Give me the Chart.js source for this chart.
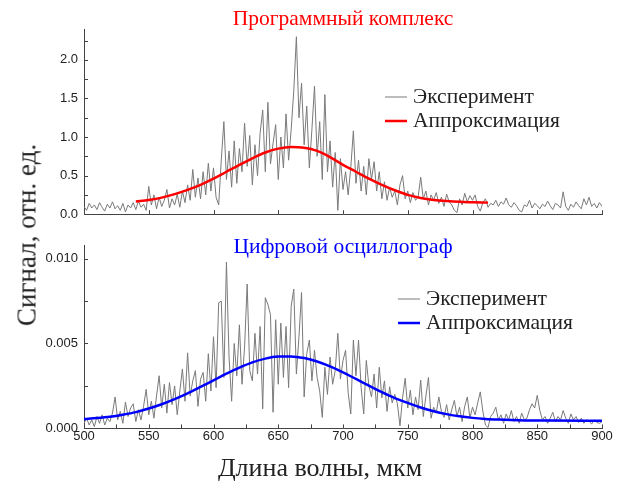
<!DOCTYPE html>
<html>
<head>
<meta charset="utf-8">
<script src="https://cdn.jsdelivr.net/npm/chart.js@4.4.1/dist/chart.umd.min.js"></script>
<style>
  body { margin: 0; background: #fff; }
  #wrap { position: relative; width: 617px; height: 486px; }
  .panel { position: absolute; left: 0; width: 617px; }
  #ytitle {
    position: absolute; left: 27px; top: 235px;
    transform: translate(-50%, -50%) rotate(-90deg);
    font: 27px "Liberation Serif"; color: #222; white-space: nowrap;
  }
  #xtitle {
    position: absolute; left: 320px; top: 468px;
    transform: translate(-50%, -50%);
    font: 26px "Liberation Serif"; color: #222; white-space: nowrap;
  }
</style>
</head>
<body>
<div id="wrap">
  <div class="panel" style="top:0;height:228px"><canvas id="topChart"></canvas></div>
  <div class="panel" style="top:226px;height:260px"><canvas id="bottomChart"></canvas></div>
  <div id="ytitle">Сигнал, отн. ед.</div>
  <div id="xtitle">Длина волны, мкм</div>
</div>
<script>
// wavelength (нм), signal
var topExperiment = [
  [500,0.10],[502,0.05],[504,0.14],[506,0.08],[508,0.12],[510,0.06],[512,0.15],[514,0.09],[516,0.04],[518,0.13],
  [520,0.08],[522,0.16],[524,0.07],[526,0.11],[528,0.05],[530,0.14],[532,0.03],[534,0.12],[536,0.08],[538,0.15],
  [540,0.06],[542,0.17],[544,0.09],[546,0.13],[548,0.05],[550,0.36],[552,0.12],[554,0.25],[556,0.07],[558,0.22],
  [560,0.10],[562,0.18],[564,0.32],[566,0.08],[568,0.20],[570,0.12],[572,0.26],[574,0.09],[576,0.30],[578,0.15],
  [580,0.38],[582,0.18],[584,0.58],[586,0.22],[588,0.47],[590,0.20],[592,0.55],[594,0.25],[596,0.66],[598,0.30],
  [600,0.60],[602,0.22],[604,0.12],[606,0.70],[608,1.20],[610,0.45],[612,0.82],[614,0.35],[616,0.95],[618,0.40],
  [620,0.85],[622,0.55],[624,1.18],[626,0.62],[628,1.02],[630,0.38],[632,0.90],[634,0.50],[636,1.05],[638,1.35],
  [640,0.55],[642,1.45],[644,0.65],[646,0.92],[648,1.16],[650,0.45],[652,1.00],[654,0.60],[656,1.30],[658,0.70],
  [660,1.10],[662,1.60],[664,2.30],[666,1.25],[668,1.70],[670,0.90],[672,1.40],[674,0.60],[676,1.10],[678,1.66],
  [680,0.75],[682,1.20],[684,0.45],[686,1.55],[688,0.55],[690,0.95],[692,0.35],[694,0.80],[696,0.05],[698,0.72],
  [700,0.32],[702,0.55],[704,0.25],[706,0.60],[708,1.08],[710,0.40],[712,0.70],[714,0.30],[716,0.62],[718,0.25],
  [720,0.72],[722,0.45],[724,0.68],[726,0.30],[728,0.55],[730,0.20],[732,0.42],[734,0.18],[736,0.35],[738,0.22],
  [740,0.30],[742,0.12],[744,0.38],[746,0.50],[748,0.20],[750,0.30],[752,0.15],[754,0.28],[756,0.18],[758,0.22],
  [760,0.48],[762,0.20],[764,0.30],[766,0.12],[768,0.25],[770,0.18],[772,0.28],[774,0.14],[776,0.22],[778,0.10],
  [780,0.26],[782,0.16],[784,0.12],[786,0.05],[788,0.02],[790,0.20],[792,0.12],[794,0.27],[796,0.16],[798,0.24],
  [800,0.18],[802,0.25],[804,0.10],[806,0.04],[808,0.15],[810,0.20],[812,0.09],[814,0.14],[816,0.12],[818,0.18],
  [820,0.10],[822,0.16],[824,0.13],[826,0.21],[828,0.12],[830,0.09],[832,0.15],[834,0.11],[836,0.05],[838,0.03],
  [840,0.12],[842,0.10],[844,0.18],[846,0.08],[848,0.14],[850,0.11],[852,0.07],[854,0.13],[856,0.10],[858,0.17],
  [860,0.11],[862,0.06],[864,0.14],[866,0.12],[868,0.08],[870,0.29],[872,0.10],[874,0.05],[876,0.13],[878,0.09],
  [880,0.16],[882,0.11],[884,0.07],[886,0.20],[888,0.12],[890,0.22],[892,0.10],[894,0.14],[896,0.08],[898,0.15],
  [900,0.10]
];
var topFit = [
  [540,0.165],[550,0.185],[560,0.215],[570,0.26],[580,0.315],[590,0.38],[600,0.46],[610,0.55],[620,0.64],
  [630,0.725],[640,0.80],[650,0.85],[660,0.87],[670,0.86],[680,0.82],[690,0.74],[700,0.64],[710,0.55],
  [720,0.46],[730,0.38],[740,0.31],[750,0.25],[760,0.21],[770,0.185],[780,0.17],[790,0.16],[800,0.155],[812,0.15]
];
// bottom panel values in units of 1e-3
var bottomExperiment = [
  [500,0.3],[502,0.6],[504,0.2],[506,0.5],[508,0.1],[510,0.7],[512,0.3],[514,0.8],[516,0.2],[518,0.6],
  [520,0.4],[522,0.9],[524,1.85],[526,0.5],[528,1.0],[530,0.3],[532,1.55],[534,0.7],[536,1.2],[538,1.45],
  [540,0.4],[542,1.1],[544,0.5],[546,1.3],[548,2.3],[550,0.8],[552,1.6],[554,0.6],[556,1.9],[558,3.1],
  [560,1.2],[562,2.6],[564,0.9],[566,2.7],[568,1.4],[570,2.5],[572,0.8],[574,2.2],[576,3.5],[578,1.6],
  [580,4.45],[582,1.9],[584,2.8],[586,3.4],[588,1.3],[590,2.9],[592,3.3],[594,1.6],[596,4.4],[598,2.2],
  [600,5.4],[602,2.4],[604,7.4],[606,7.5],[608,3.0],[610,9.8],[612,4.2],[614,1.6],[616,5.0],[618,3.1],
  [620,6.1],[622,2.6],[624,4.8],[626,8.5],[628,3.4],[630,2.8],[632,5.6],[634,3.2],[636,6.0],[638,1.15],
  [640,7.7],[642,7.3],[644,6.7],[646,0.95],[648,6.4],[650,2.6],[652,6.2],[654,3.0],[656,6.0],[658,2.4],
  [660,7.2],[662,8.2],[664,3.2],[666,5.4],[668,8.0],[670,1.85],[672,4.4],[674,5.2],[676,2.8],[678,4.6],
  [680,3.0],[682,2.2],[684,0.65],[686,3.6],[688,2.0],[690,4.2],[692,2.6],[694,3.4],[696,5.6],[698,2.9],
  [700,4.0],[702,4.6],[704,2.1],[706,0.85],[708,5.2],[710,3.1],[712,5.2],[714,2.4],[716,0.85],[718,4.0],
  [720,2.5],[722,1.85],[724,3.2],[726,1.2],[728,3.6],[730,1.8],[732,2.8],[734,1.0],[736,2.45],[738,1.5],
  [740,2.0],[742,1.45],[744,0.15],[746,1.8],[748,2.95],[750,1.2],[752,2.25],[754,0.8],[756,1.85],[758,1.1],
  [760,2.85],[762,0.7],[764,1.9],[766,3.0],[768,0.6],[770,1.25],[772,0.9],[774,1.85],[776,1.0],[778,0.65],
  [780,1.4],[782,0.5],[784,1.1],[786,1.65],[788,0.7],[790,1.25],[792,0.4],[794,1.3],[796,1.85],[798,0.6],
  [800,1.25],[802,0.8],[804,1.5],[806,2.15],[808,1.0],[810,0.2],[812,0.05],[814,0.7],[816,0.9],[818,1.25],
  [820,0.5],[822,0.8],[824,0.3],[826,0.85],[828,0.5],[830,1.05],[832,0.4],[834,0.7],[836,0.3],[838,0.9],
  [840,0.5],[842,0.6],[844,1.1],[846,1.45],[848,1.2],[850,1.95],[852,1.05],[854,0.5],[856,0.7],[858,0.3],
  [860,0.6],[862,0.95],[864,0.4],[866,0.7],[868,0.5],[870,1.05],[872,0.6],[874,0.3],[876,0.85],[878,0.5],
  [880,0.7],[882,0.35],[884,0.6],[886,0.3],[888,0.5],[890,0.45],[892,0.25],[894,0.5],[896,0.35],[898,0.3],
  [900,0.4]
];
var bottomFit = [
  [500,0.55],[510,0.61],[520,0.69],[530,0.81],[540,0.96],[550,1.17],[560,1.42],[570,1.72],[580,2.06],
  [590,2.44],[600,2.83],[610,3.22],[620,3.58],[630,3.89],[640,4.11],[650,4.23],[660,4.24],[670,4.14],
  [680,3.94],[690,3.65],[700,3.30],[710,2.91],[720,2.52],[730,2.13],[740,1.78],[750,1.50],[760,1.23],
  [770,1.01],[780,0.84],[790,0.71],[800,0.62],[810,0.56],[820,0.52],[830,0.49],[840,0.47],[860,0.46],[900,0.45]
];
var xTicks = [500, 550, 600, 650, 700, 750, 800, 850, 900];
var topYTicks = [0, 0.5, 1.0, 1.5, 2.0];
var bottomYTicks = [0, 5, 10];
var seriesNames = ["Эксперимент", "Аппроксимация"];

var sans = { family: "Liberation Sans", size: 13 };

// short ticks pointing into the plot
var innerTicks = {
  id: 'innerTicks',
  afterDraw: function (chart, args, o) {
    var ctx = chart.ctx, a = chart.chartArea, x = chart.scales.x, y = chart.scales.y;
    ctx.save();
    ctx.strokeStyle = '#444';
    ctx.lineWidth = 1;
    ctx.beginPath();
    for (var v = x.min; v <= x.max + 1e-9; v += o.xStep) {
      var px = Math.round(x.getPixelForValue(v)) + 0.5;
      ctx.moveTo(px, a.bottom); ctx.lineTo(px, a.bottom - 4);
    }
    for (var w = 0; w <= y.max + 1e-9; w += o.yStep) {
      var py = Math.round(y.getPixelForValue(w)) + 0.5;
      ctx.moveTo(a.left, py); ctx.lineTo(a.left + 4, py);
    }
    ctx.stroke();
    ctx.restore();
  }
};

// panel caption and legend
var panelText = {
  id: 'panelText',
  afterDraw: function (chart, args, o) {
    var ctx = chart.ctx, a = chart.chartArea;
    ctx.save();
    ctx.font = '21.5px "Liberation Serif"';
    ctx.textBaseline = 'alphabetic';
    ctx.textAlign = 'center';
    ctx.fillStyle = o.titleColor;
    ctx.fillText(o.title, (a.left + a.right) / 2, o.titleY);
    ctx.textAlign = 'left';
    chart.data.datasets.forEach(function (ds, i) {
      var ly = o.legendY + i * 24;
      ctx.strokeStyle = ds.borderColor;
      ctx.lineWidth = ds.borderWidth;
      ctx.beginPath();
      ctx.moveTo(o.legendX, ly); ctx.lineTo(o.legendX + 22, ly);
      ctx.stroke();
      ctx.fillStyle = '#222';
      ctx.fillText(ds.label, o.legendX + 28, ly + 6);
    });
    ctx.restore();
  }
};

function pts(arr) { return arr.map(function (p) { return { x: p[0], y: p[1] }; }); }

function makeChart(id, exp, fit, fitColor, yMax, yTicks, yFmt, opts) {
  return new Chart(id, {
    type: 'line',
    data: {
      datasets: [{
        label: seriesNames[0], data: pts(exp), borderColor: '#7a7a7a', borderWidth: 1,
        pointRadius: 0, tension: 0, order: 2
      }, {
        label: seriesNames[1], data: pts(fit), borderColor: fitColor, borderWidth: 2.5,
        pointRadius: 0, cubicInterpolationMode: 'monotone', order: 1
      }]
    },
    options: {
      animation: false,
      responsive: true,
      maintainAspectRatio: false,
      layout: { padding: opts.padding },
      plugins: {
        legend: { display: false },
        tooltip: { enabled: false },
        innerTicks: opts.ticks,
        panelText: opts.text
      },
      scales: {
        x: {
          type: 'linear', min: 500, max: 900,
          grid: { display: false, drawTicks: false },
          border: { display: true, color: '#444', width: 1 },
          afterBuildTicks: function (s) { s.ticks = xTicks.map(function (v) { return { value: v }; }); },
          ticks: { display: opts.showX, font: sans, color: '#222', padding: 0, maxRotation: 0 }
        },
        y: {
          min: 0, max: yMax,
          grid: { display: false, drawTicks: false },
          border: { display: true, color: '#444', width: 1 },
          afterBuildTicks: function (s) { s.ticks = yTicks.map(function (v) { return { value: v }; }); },
          afterFit: function (s) { s.width = 84; },
          ticks: { font: sans, color: '#222', padding: 6, callback: yFmt }
        }
      }
    },
    plugins: [innerTicks, panelText]
  });
}

makeChart('topChart', topExperiment, topFit, '#ff0000', 2.4, topYTicks,
  function (v) { return v.toFixed(1); },
  {
    padding: { top: 29, right: 15, bottom: 1, left: 0 },
    showX: false,
    ticks: { xStep: 50, yStep: 0.25 },
    text: { title: 'Программный комплекс', titleColor: '#ff0000', titleY: 25, legendX: 385, legendY: 97 }
  });

makeChart('bottomChart', bottomExperiment, bottomFit, '#0000ff', 10.8, bottomYTicks,
  function (v) { return (v / 1000).toFixed(3); },
  {
    padding: { top: 19, right: 15, bottom: 42, left: 0 },
    showX: true,
    ticks: { xStep: 25, yStep: 2.5 },
    text: { title: 'Цифровой осциллограф', titleColor: '#0000ff', titleY: 27, legendX: 398, legendY: 73 }
  });
</script>
</body>
</html>
